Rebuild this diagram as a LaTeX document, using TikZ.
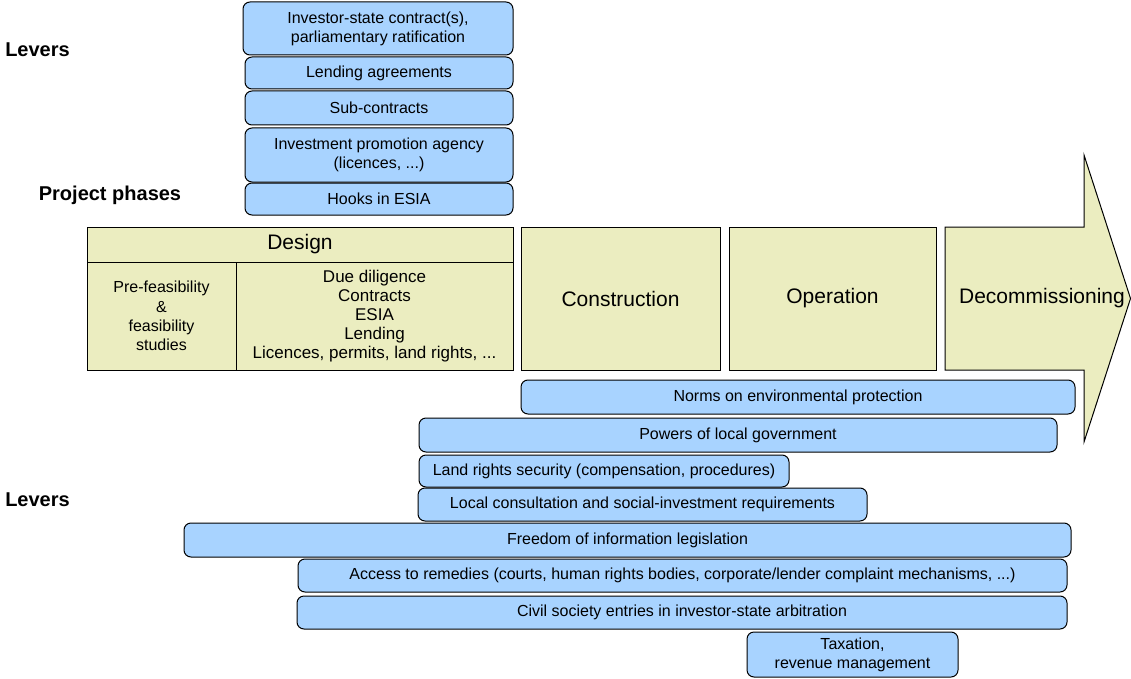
\documentclass[tikz,border=0pt]{standalone}
\usepackage{fontspec}
\setmainfont{Liberation Sans}
\usetikzlibrary{shapes}

\definecolor{leverblue}{RGB}{168,211,255}
\definecolor{phasefill}{RGB}{235,237,192}

\tikzset{
  lever/.style={rectangle, rounded corners=7pt, draw=black, line width=1pt, fill=leverblue, align=center, font=\fontsize{16}{19}\selectfont, inner sep=0pt},
  phase/.style={rectangle, draw=black, line width=1pt, fill=phasefill, align=center, inner sep=0pt},
  heading/.style={font=\fontsize{20}{24}\selectfont\bfseries}
}

\begin{document}
\begin{tikzpicture}[x=1pt, y=-1pt]
\useasboundingbox (0,0) rectangle (1131,679);

% labels on the left
\node[heading] (lv1) at (37.5,50) {Levers};
\node[heading] (pp) at (110,195) {Project phases};
\node[heading] (lv2) at (37.5,500) {Levers};

% levers above the phases
\node[lever, minimum width=270, minimum height=53] (isc) at (378,28.5) {Investor-state contract(s),\\parliamentary ratification};
\node[lever, minimum width=268, minimum height=32] (la) at (379,73) {Lending agreements};
\node[lever, minimum width=268, minimum height=34] (sc) at (379,108) {Sub-contracts};
\node[lever, minimum width=268, minimum height=54] (ipa) at (379,155) {Investment promotion agency\\(licences, ...)};
\node[lever, minimum width=268, minimum height=32] (hk) at (379,199) {Hooks in ESIA};

% project phases
\node[phase, minimum width=426, minimum height=35, font=\fontsize{21}{24}\selectfont] (des) at (300,244.5) {Design};
\node[phase, minimum width=149, minimum height=108, font=\fontsize{16}{19.3}\selectfont] (pf) at (161.5,316) {Pre-feasibility\\\&\\feasibility\\studies};
\node[phase, minimum width=277, minimum height=108, font=\fontsize{17}{19}\selectfont] (dd) at (374.5,316) {Due diligence\\Contracts\\ESIA\\Lending\\Licences, permits, land rights, ...};
\node[phase, minimum width=199, minimum height=143, font=\fontsize{21}{24}\selectfont] (con) at (620.5,298.5) {Construction};
\node[phase, minimum width=207, minimum height=143, font=\fontsize{21}{24}\selectfont] (op) at (832.5,298.5) {Operation};
\draw[line width=1pt, fill=phasefill] (945,227) -- (1084,227) -- (1084,155) -- (1130.5,298.5) -- (1084,442) -- (1084,370) -- (945,370) -- cycle;
\node[font=\fontsize{21}{24}\selectfont] (dec) at (1042,298) {Decommissioning};

% levers below the phases
\node[lever, minimum width=554, minimum height=34] (nep) at (798,397) {Norms on environmental protection};
\node[lever, minimum width=638, minimum height=34] (plg) at (738,435) {Powers of local government};
\node[lever, minimum width=370, minimum height=32] (lrs) at (604,471) {Land rights security (compensation, procedures)};
\node[lever, minimum width=449, minimum height=33] (lcs) at (642.5,504.5) {Local consultation and social-investment requirements};
\node[lever, minimum width=887, minimum height=34] (foi) at (627.5,540) {Freedom of information legislation};
\node[lever, minimum width=769, minimum height=33] (atr) at (682.5,575.5) {Access to remedies (courts, human rights bodies, corporate/lender complaint mechanisms, ...)};
\node[lever, minimum width=770, minimum height=33] (cse) at (682,612.5) {Civil society entries in investor-state arbitration};
\node[lever, minimum width=211, minimum height=45] (tax) at (852.5,654.5) {Taxation,\\revenue management};
\end{tikzpicture}
\end{document}
